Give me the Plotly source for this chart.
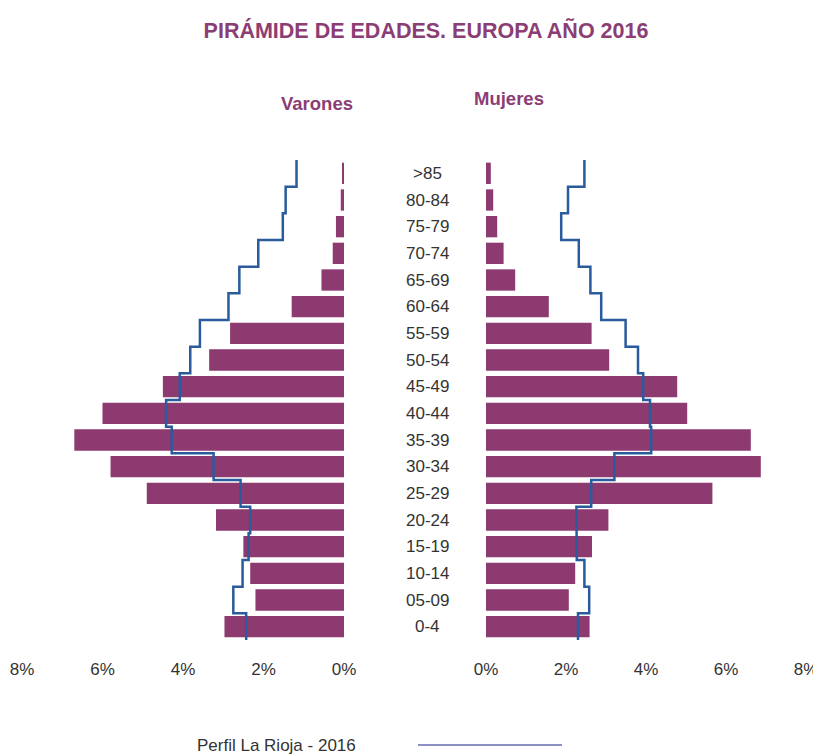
import plotly.graph_objects as go

# ---- data ----
age_groups = ["0-4", "05-09", "10-14", "15-19", "20-24", "25-29", "30-34", "35-39",
              "40-44", "45-49", "50-54", "55-59", "60-64", "65-69", "70-74", "75-79",
              "80-84", ">85"]
# Europe 2016 (% of population)
varones_europa = [2.97, 2.20, 2.33, 2.50, 3.18, 4.90, 5.80, 6.70,
                  6.00, 4.50, 3.35, 2.83, 1.30, 0.56, 0.28, 0.20, 0.08, 0.04]
mujeres_europa = [2.59, 2.07, 2.23, 2.65, 3.06, 5.66, 6.87, 6.62,
                  5.03, 4.78, 3.08, 2.64, 1.57, 0.73, 0.44, 0.28, 0.18, 0.12]
# La Rioja 2016 profile
varones_rioja = [2.43, 2.75, 2.52, 2.37, 2.33, 2.57, 3.24, 4.28,
                 4.42, 4.08, 3.82, 3.58, 2.87, 2.60, 2.13, 1.52, 1.45, 1.18]
mujeres_rioja = [2.30, 2.58, 2.46, 2.27, 2.26, 2.63, 3.21, 4.13,
                 4.10, 3.93, 3.80, 3.49, 2.88, 2.61, 2.32, 1.88, 2.05, 2.46]
tick_values = [0, 2, 4, 6, 8]
tick_labels = ["0%", "2%", "4%", "6%", "8%"]

title_text = "PIRÁMIDE DE EDADES. EUROPA AÑO 2016"
legend_text = "Perfil La Rioja - 2016"

BAR = "#8C3A6F"
LINE = "#2A5B9C"
TITLE = "#8B3D74"
TXT = "#333333"
FONT = "Liberation Sans, Arial"

ypos = list(range(len(age_groups)))


def step_points(values):
    xs, ys = [], []
    for i, v in enumerate(values):
        xs += [v, v]
        ys += [i - 0.5, i + 0.5]
    return xs, ys


fig = go.Figure()
fig.add_trace(go.Bar(y=ypos, x=varones_europa, orientation="h", width=0.8,
                     marker=dict(color=BAR, line=dict(width=0)),
                     xaxis="x", yaxis="y", showlegend=False, hoverinfo="x"))
fig.add_trace(go.Bar(y=ypos, x=mujeres_europa, orientation="h", width=0.8,
                     marker=dict(color=BAR, line=dict(width=0)),
                     xaxis="x2", yaxis="y", showlegend=False, hoverinfo="x"))
vx, vy = step_points(varones_rioja)
mx, my = step_points(mujeres_rioja)
fig.add_trace(go.Scatter(x=vx, y=vy, mode="lines", line=dict(color=LINE, width=2.5),
                         xaxis="x", yaxis="y", showlegend=False, hoverinfo="skip"))
fig.add_trace(go.Scatter(x=mx, y=my, mode="lines", line=dict(color=LINE, width=2.5),
                         xaxis="x2", yaxis="y", showlegend=False, hoverinfo="skip"))

axis_common = dict(tickvals=tick_values, ticktext=tick_labels, showgrid=False,
                   zeroline=False, showline=False, ticks="outside", ticklen=14,
                   tickcolor="rgba(0,0,0,0)", automargin=False,
                   tickfont=dict(size=17, color=TXT, family=FONT),
                   fixedrange=True)

W, H = 821, 755
OFF = 8  # page body margin offset
# reference pixel positions of plot area
REF_L, REF_R, REF_T, REF_B = 22, 806, 160, 640
ml = REF_L - OFF
mr = W - (REF_R - OFF)
mt = REF_T - OFF
mb = H - (REF_B - OFF)
pw = W - ml - mr
ph = H - mt - mb


def px2paper(x):
    return (x - OFF - ml) / pw


def py2paper(y):
    return (H - mb - (y - OFF)) / ph


annotations = []
for i, lab in enumerate(age_groups):
    annotations.append(dict(x=px2paper(427), xref="paper", y=i, yref="y", text=lab,
                            showarrow=False, xanchor="center", yanchor="middle",
                            font=dict(size=17, color=TXT, family=FONT)))

annotations.append(dict(x=px2paper(317), xref="paper", y=py2paper(103), yref="paper",
                        text="<b>Varones</b>", showarrow=False, xanchor="center",
                        yanchor="middle",
                        font=dict(size=18.5, color=TITLE, family=FONT)))
annotations.append(dict(x=px2paper(509), xref="paper", y=py2paper(99), yref="paper",
                        text="<b>Mujeres</b>", showarrow=False, xanchor="center",
                        yanchor="middle",
                        font=dict(size=18.5, color=TITLE, family=FONT)))
annotations.append(dict(x=px2paper(195), xref="paper", y=py2paper(745), yref="paper",
                        text=legend_text, showarrow=False, xanchor="left",
                        yanchor="middle",
                        font=dict(size=17, color=TXT, family=FONT)))

shapes = [dict(type="line", xref="paper", yref="paper",
               x0=px2paper(418), x1=px2paper(562), y0=py2paper(745), y1=py2paper(745),
               line=dict(color="#8C90C2", width=2))]

fig.update_layout(
    width=W, height=H,
    margin=dict(l=ml, r=mr, t=mt, b=mb, autoexpand=False),
    paper_bgcolor="white", plot_bgcolor="white",
    title=dict(text="<b>" + title_text + "</b>", x=px2paper(426), xref="paper",
               xanchor="center", y=1 - (30 - OFF) / H, yref="container", yanchor="middle",
               automargin=False,
               font=dict(size=21.5, color=TITLE, family=FONT)),
    xaxis=dict(domain=[0, px2paper(344)], range=[8, 0], **axis_common),
    xaxis2=dict(domain=[px2paper(486), 1], range=[0, 8], anchor="y", **axis_common),
    yaxis=dict(range=[-0.5, 17.5], showticklabels=False, showgrid=False,
               zeroline=False, showline=False, ticks="", fixedrange=True,
               automargin=False),
    annotations=annotations,
    shapes=shapes,
    bargap=0.2,
    showlegend=False,
)

fig.write_html("out.html")
